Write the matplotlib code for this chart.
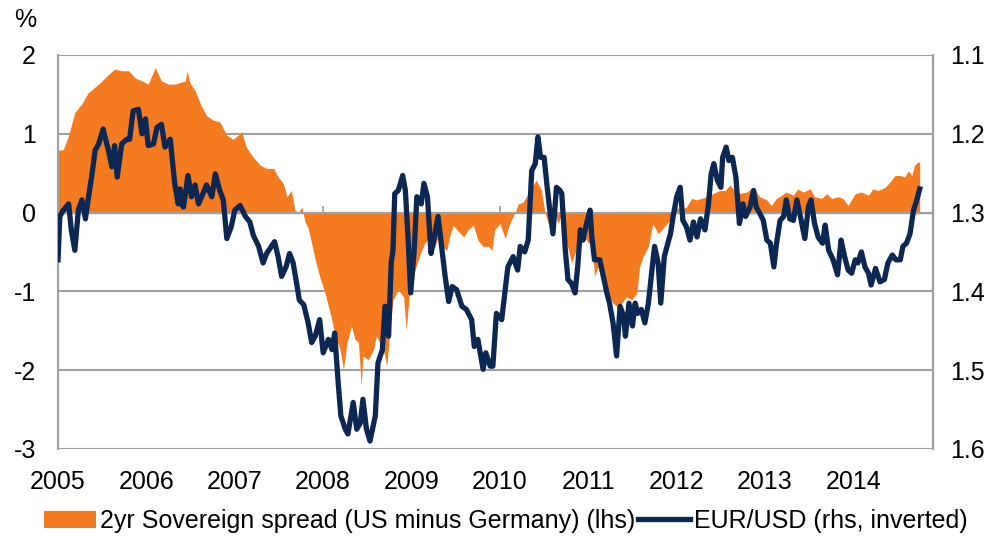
import numpy as np
import matplotlib
matplotlib.use("Agg")
import matplotlib.pyplot as plt
from matplotlib.patches import Patch
from matplotlib.lines import Line2D

plt.rcParams['font.family'] = ['Liberation Sans', 'DejaVu Sans']

# 2yr sovereign spread, US minus Germany (%), decimal years
spread_t = [2005.00, 2005.06, 2005.12, 2005.19, 2005.27, 2005.34, 2005.46, 2005.57, 2005.64,
            2005.72, 2005.80, 2005.87, 2005.95, 2006.02, 2006.10, 2006.17, 2006.25, 2006.32,
            2006.44, 2006.46, 2006.49, 2006.55, 2006.61, 2006.68, 2006.76, 2006.83, 2006.91,
            2006.98, 2007.08, 2007.13, 2007.21, 2007.29, 2007.36, 2007.44, 2007.49, 2007.55,
            2007.59, 2007.64, 2007.68, 2007.72, 2007.76, 2007.79, 2007.83, 2007.87, 2007.91,
            2007.96, 2008.02, 2008.08, 2008.13, 2008.19, 2008.23, 2008.27, 2008.32, 2008.36,
            2008.40, 2008.43, 2008.45, 2008.51, 2008.57, 2008.60, 2008.64, 2008.68, 2008.72,
            2008.76, 2008.79, 2008.85, 2008.91, 2008.94, 2008.98, 2009.04, 2009.10, 2009.15,
            2009.21, 2009.26, 2009.30, 2009.34, 2009.40, 2009.43, 2009.47, 2009.53, 2009.59,
            2009.64, 2009.70, 2009.75, 2009.81, 2009.87, 2009.91, 2009.94, 2010.00, 2010.06,
            2010.11, 2010.17, 2010.21, 2010.26, 2010.30, 2010.36, 2010.41, 2010.47, 2010.51,
            2010.55, 2010.60, 2010.66, 2010.70, 2010.74, 2010.77, 2010.81, 2010.85, 2010.89,
            2010.92, 2010.96, 2011.00, 2011.04, 2011.07, 2011.11, 2011.15, 2011.19, 2011.24,
            2011.28, 2011.32, 2011.38, 2011.43, 2011.49, 2011.55, 2011.58, 2011.62, 2011.68,
            2011.73, 2011.79, 2011.83, 2011.89, 2011.92, 2011.96, 2012.00, 2012.04, 2012.11,
            2012.17, 2012.22, 2012.28, 2012.34, 2012.41, 2012.49, 2012.55, 2012.60, 2012.66,
            2012.71, 2012.79, 2012.87, 2012.94, 2013.02, 2013.07, 2013.13, 2013.19, 2013.24,
            2013.32, 2013.37, 2013.43, 2013.51, 2013.56, 2013.64, 2013.70, 2013.75, 2013.83,
            2013.88, 2013.94, 2014.02, 2014.09, 2014.17, 2014.22, 2014.28, 2014.36, 2014.43,
            2014.47, 2014.53, 2014.58, 2014.62, 2014.66, 2014.69, 2014.73, 2014.75]
spread = [0.79, 0.80, 0.98, 1.27, 1.38, 1.52, 1.63, 1.75, 1.82,
          1.80, 1.80, 1.71, 1.67, 1.63, 1.84, 1.67, 1.63, 1.63,
          1.67, 1.80, 1.65, 1.55, 1.38, 1.23, 1.17, 1.15, 0.98,
          0.93, 1.02, 0.83, 0.70, 0.60, 0.56, 0.56, 0.45, 0.37,
          0.20, 0.28, 0.03, 0.00, 0.07, -0.10, -0.20, -0.39, -0.60,
          -0.81, -1.02, -1.28, -1.53, -1.74, -1.99, -1.65, -1.44, -1.61,
          -1.65, -2.20, -1.82, -1.87, -1.74, -1.57, -1.65, -1.74, -1.95,
          -1.44, -1.11, -0.98, -1.07, -1.49, -0.98, -0.73, -0.52, -0.39,
          -0.31, -0.45, -0.31, -0.43, -0.48, -0.31, -0.16, -0.24, -0.31,
          -0.22, -0.16, -0.35, -0.43, -0.43, -0.48, -0.22, -0.14, -0.33,
          -0.14, 0.00, 0.11, 0.13, 0.20, 0.32, 0.41, 0.28, -0.01,
          -0.14, 0.03, -0.14, 0.00, -0.31, -0.45, -0.64, -0.52, -0.31,
          -0.22, -0.31, -0.39, -0.35, -0.81, -0.69, -0.85, -0.94, -1.07,
          -1.15, -1.19, -1.15, -1.07, -1.11, -1.02, -0.69, -0.56, -0.43,
          -0.14, -0.27, -0.22, -0.14, -0.10, 0.03, 0.07, 0.03, 0.07,
          0.18, 0.16, 0.18, 0.20, 0.24, 0.28, 0.28, 0.35, 0.28,
          0.24, 0.26, 0.32, 0.20, 0.16, 0.09, 0.18, 0.22, 0.26,
          0.22, 0.30, 0.26, 0.30, 0.20, 0.18, 0.24, 0.18, 0.20,
          0.18, 0.09, 0.24, 0.26, 0.22, 0.30, 0.28, 0.32, 0.41,
          0.47, 0.47, 0.45, 0.53, 0.47, 0.60, 0.64, 0.64]

# EUR/USD level (rhs, inverted)
fx_t = [2005.00, 2005.02, 2005.06, 2005.12, 2005.15, 2005.19, 2005.23, 2005.27, 2005.31,
        2005.34, 2005.38, 2005.42, 2005.46, 2005.51, 2005.57, 2005.61, 2005.64, 2005.67,
        2005.72, 2005.78, 2005.81, 2005.85, 2005.91, 2005.95, 2005.99, 2006.02, 2006.08,
        2006.12, 2006.17, 2006.21, 2006.27, 2006.32, 2006.36, 2006.38, 2006.40, 2006.42,
        2006.47, 2006.51, 2006.55, 2006.59, 2006.64, 2006.68, 2006.74, 2006.78, 2006.83,
        2006.87, 2006.91, 2006.96, 2007.00, 2007.06, 2007.12, 2007.17, 2007.21, 2007.27,
        2007.32, 2007.36, 2007.45, 2007.49, 2007.53, 2007.58, 2007.62, 2007.66, 2007.70,
        2007.73, 2007.78, 2007.83, 2007.87, 2007.91, 2007.96, 2008.00, 2008.06, 2008.10,
        2008.13, 2008.17, 2008.20, 2008.25, 2008.28, 2008.34, 2008.38, 2008.42, 2008.45,
        2008.49, 2008.53, 2008.59, 2008.62, 2008.67, 2008.70, 2008.74, 2008.77, 2008.79,
        2008.81, 2008.85, 2008.90, 2008.93, 2008.96, 2008.99, 2009.03, 2009.06, 2009.11,
        2009.14, 2009.18, 2009.22, 2009.26, 2009.30, 2009.34, 2009.38, 2009.42, 2009.46,
        2009.51, 2009.57, 2009.62, 2009.68, 2009.71, 2009.75, 2009.81, 2009.84, 2009.89,
        2009.92, 2009.96, 2010.02, 2010.06, 2010.09, 2010.15, 2010.20, 2010.23, 2010.28,
        2010.32, 2010.36, 2010.40, 2010.43, 2010.46, 2010.50, 2010.53, 2010.56, 2010.60,
        2010.64, 2010.68, 2010.70, 2010.74, 2010.77, 2010.81, 2010.85, 2010.88, 2010.91,
        2010.94, 2010.98, 2011.02, 2011.04, 2011.07, 2011.13, 2011.17, 2011.21, 2011.24,
        2011.28, 2011.32, 2011.36, 2011.40, 2011.42, 2011.46, 2011.50, 2011.53, 2011.56,
        2011.60, 2011.64, 2011.68, 2011.72, 2011.75, 2011.79, 2011.82, 2011.86, 2011.90,
        2011.93, 2011.96, 2012.00, 2012.04, 2012.07, 2012.11, 2012.15, 2012.19, 2012.23,
        2012.27, 2012.32, 2012.36, 2012.39, 2012.42, 2012.46, 2012.50, 2012.52, 2012.56,
        2012.59, 2012.63, 2012.67, 2012.71, 2012.75, 2012.78, 2012.83, 2012.87, 2012.90,
        2012.94, 2012.98, 2013.02, 2013.06, 2013.10, 2013.13, 2013.17, 2013.21, 2013.24,
        2013.28, 2013.32, 2013.36, 2013.40, 2013.45, 2013.49, 2013.52, 2013.56, 2013.60,
        2013.65, 2013.68, 2013.72, 2013.77, 2013.82, 2013.86, 2013.90, 2013.94, 2013.98,
        2014.02, 2014.05, 2014.09, 2014.13, 2014.17, 2014.20, 2014.25, 2014.30, 2014.35,
        2014.39, 2014.44, 2014.48, 2014.53, 2014.56, 2014.60, 2014.64, 2014.68, 2014.71,
        2014.75]
eurusd = [1.360, 1.305, 1.297, 1.289, 1.322, 1.348, 1.297, 1.284, 1.308,
          1.284, 1.255, 1.221, 1.213, 1.194, 1.221, 1.242, 1.215, 1.255,
          1.213, 1.207, 1.207, 1.171, 1.169, 1.200, 1.181, 1.215, 1.213,
          1.192, 1.188, 1.217, 1.207, 1.263, 1.289, 1.270, 1.290, 1.293,
          1.253, 1.280, 1.265, 1.289, 1.276, 1.265, 1.280, 1.251, 1.272,
          1.284, 1.333, 1.318, 1.297, 1.291, 1.305, 1.312, 1.329, 1.343,
          1.364, 1.352, 1.337, 1.356, 1.381, 1.369, 1.352, 1.364, 1.390,
          1.411, 1.417, 1.440, 1.465, 1.457, 1.436, 1.478, 1.461, 1.474,
          1.453, 1.516, 1.558, 1.575, 1.581, 1.541, 1.575, 1.567, 1.537,
          1.575, 1.590, 1.558, 1.491, 1.474, 1.419, 1.457, 1.364, 1.348,
          1.276, 1.272, 1.253, 1.272, 1.331, 1.402, 1.348, 1.280, 1.289,
          1.263, 1.280, 1.352, 1.330, 1.305, 1.343, 1.381, 1.413, 1.394,
          1.398, 1.419, 1.423, 1.436, 1.470, 1.461, 1.499, 1.478, 1.495,
          1.495, 1.428, 1.436, 1.398, 1.369, 1.356, 1.373, 1.343, 1.350,
          1.335, 1.247, 1.238, 1.204, 1.230, 1.230, 1.263, 1.293, 1.327,
          1.268, 1.272, 1.276, 1.348, 1.385, 1.390, 1.402, 1.369, 1.322,
          1.335, 1.314, 1.297, 1.331, 1.360, 1.360, 1.381, 1.402, 1.415,
          1.440, 1.482, 1.419, 1.432, 1.457, 1.415, 1.444, 1.415, 1.428,
          1.423, 1.440, 1.415, 1.373, 1.343, 1.364, 1.415, 1.356, 1.339,
          1.327, 1.305, 1.280, 1.268, 1.310, 1.318, 1.335, 1.312, 1.331,
          1.308, 1.322, 1.289, 1.251, 1.238, 1.259, 1.268, 1.230, 1.217,
          1.234, 1.230, 1.255, 1.314, 1.289, 1.305, 1.293, 1.272, 1.293,
          1.301, 1.310, 1.335, 1.339, 1.369, 1.339, 1.310, 1.305, 1.284,
          1.308, 1.310, 1.284, 1.305, 1.333, 1.293, 1.284, 1.314, 1.331,
          1.339, 1.316, 1.348, 1.360, 1.379, 1.335, 1.356, 1.373, 1.377,
          1.360, 1.364, 1.350, 1.369, 1.377, 1.392, 1.371, 1.388, 1.385,
          1.364, 1.354, 1.360, 1.360, 1.343, 1.339, 1.327, 1.297, 1.287,
          1.270]

years = list(range(2005, 2015))
major_ticks = [2006, 2008, 2010, 2012, 2014]

orange = '#F47B20'
navy = '#0B2752'
grey = '#A0A0A0'
fs = 18

fig = plt.figure(figsize=(9.92, 5.36), dpi=100)
ax = fig.add_axes([0.0585, 0.1625, 0.882, 0.735])

ax.fill_between(spread_t, spread, 0, color=orange, lw=0, zorder=2)
ax.axhline(0, color=grey, lw=1.5, zorder=3)
ax.set_xlim(2005, 2014.9)
ax.set_ylim(-3, 2)
ax.set_yticks([-3, -2, -1, 0, 1, 2])
ax.set_yticklabels(['-3', '-2', '-1', '0', '1', '2'])
ax.grid(axis='y', color=grey, lw=1.5, zorder=1)
ax.set_axisbelow(True)
ax.set_xticks(years)
ax.set_xticklabels([str(y) for y in years])
ax.tick_params(axis='x', length=0, pad=15, labelsize=fs)
ax.tick_params(axis='y', length=0, pad=16, labelsize=fs)
for s in ['top', 'bottom']:
    ax.spines[s].set_visible(False)
ax.spines['left'].set_color(grey)
ax.spines['left'].set_linewidth(1.5)

# small ticks sitting on the zero line
zx = ax.secondary_xaxis(0.6)
zx.set_xticks(major_ticks)
zx.set_xticklabels([])
zx.tick_params(length=5, width=1.2, color=grey, direction='out')
zx.spines['bottom'].set_visible(False)

ax2 = ax.twinx()
ax2.plot(fx_t, eurusd, color=navy, lw=3.8, solid_joinstyle='round', zorder=4)
ax2.set_ylim(1.6, 1.1)
ax2.set_yticks([1.1, 1.2, 1.3, 1.4, 1.5, 1.6])
ax2.set_yticklabels(['1.1', '1.2', '1.3', '1.4', '1.5', '1.6'])
ax2.tick_params(axis='y', length=0, pad=12, labelsize=fs)
for s in ['top', 'bottom', 'left']:
    ax2.spines[s].set_visible(False)
ax2.spines['right'].set_color(grey)
ax2.spines['right'].set_linewidth(1.5)

fig.text(0.014, 0.962, '%', fontsize=fs, va='center', ha='left')

handles = [Patch(facecolor=orange, edgecolor='none'),
           Line2D([0], [0], color=navy, lw=3.8)]
labels = ['2yr Sovereign spread (US minus Germany) (lhs)', 'EUR/USD (rhs, inverted)']
fig.legend(handles, labels, loc='center', bbox_to_anchor=(0.51, 0.028), ncol=2,
           frameon=False, fontsize=fs, handlelength=2.1, handleheight=0.65,
           handletextpad=0.15, columnspacing=0.1, borderpad=0.1)

fig.savefig('out.png', dpi=100)
